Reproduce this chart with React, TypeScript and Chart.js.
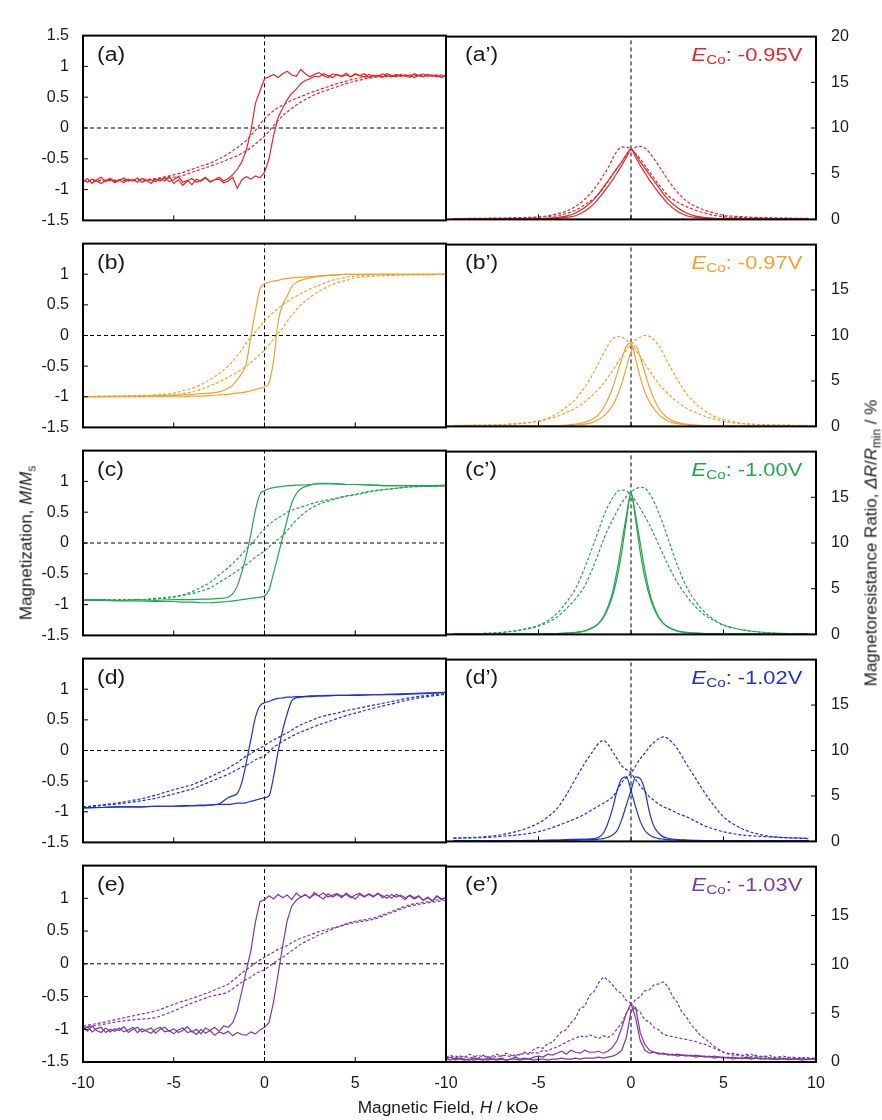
import React, { useEffect, useRef } from 'react';
import { Chart, registerables } from 'chart.js';

Chart.register(...registerables);

const FONT_FAMILY = '"Liberation Sans", Arial, Helvetica, sans-serif';

// ---------- axis ticks ----------
const xTickValues = [-10, -5, 0, 5, 10];
const xTickLabels = ['-10', '-5', '0', '5', '10'];
const magTickValues = [-1.5, -1, -0.5, 0, 0.5, 1, 1.5];
const magTickLabels = ['-1.5', '-1', '-0.5', '0', '0.5', '1', '1.5'];
const mrTickValues = [0, 5, 10, 15, 20];
const mrTickLabels = ['0', '5', '10', '15', '20'];

// ---------- panels ----------
const panelLetters = ['a', 'b', 'c', 'd', 'e'];
const depositionPotentials = ['-0.95V', '-0.97V', '-1.00V', '-1.02V', '-1.03V'];
const seriesColors = ['#e6262b', '#f1a22c', '#21a650', '#1f2fd2', '#7b3aa0'];

// ---------- field grids (kOe) ----------
const fineField = [
  -10, -9.75, -9.5, -9.25,
  -9, -8.75, -8.5, -8.25,
  -8, -7.75, -7.5, -7.25,
  -7, -6.75, -6.5, -6.25,
  -6, -5.75, -5.5, -5.25,
  -5, -4.75, -4.5, -4.25,
  -4, -3.75, -3.5, -3.25,
  -3, -2.75, -2.5, -2.25,
  -2, -1.75, -1.5, -1.25,
  -1, -0.75, -0.5, -0.25,
  0, 0.25, 0.5, 0.75,
  1, 1.25, 1.5, 1.75,
  2, 2.25, 2.5, 2.75,
  3, 3.25, 3.5, 3.75,
  4, 4.25, 4.5, 4.75,
  5, 5.25, 5.5, 5.75,
  6, 6.25, 6.5, 6.75,
  7, 7.25, 7.5, 7.75,
  8, 8.25, 8.5, 8.75,
  9, 9.25, 9.5, 9.75,
  10,
];

const coarseField = [
  -10, -9, -8, -7, -6,
  -5, -4.5, -4, -3.5, -3,
  -2.5, -2, -1.75, -1.5, -1.25,
  -1, -0.75, -0.5, -0.25, 0,
  0.25, 0.5, 0.75, 1, 1.25,
  1.5, 1.75, 2, 2.5, 3,
  3.5, 4, 4.5, 5, 6,
  7, 8, 9, 10,
];

const coarseFieldMR = [
  -9.6, -9, -8, -7, -6,
  -5, -4.5, -4, -3.5, -3,
  -2.5, -2, -1.75, -1.5, -1.25,
  -1, -0.75, -0.5, -0.25, 0,
  0.25, 0.5, 0.75, 1, 1.25,
  1.5, 1.75, 2, 2.5, 3,
  3.5, 4, 4.5, 5, 6,
  7, 8, 9, 9.6,
];

// ---------- (a) M/Ms ----------
const aLoopSolidDown = [
  -0.88, -0.82, -0.90, -0.84,
  -0.80, -0.87, -0.83, -0.89,
  -0.85, -0.81, -0.86, -0.84,
  -0.88, -0.82, -0.85, -0.90,
  -0.83, -0.86, -0.80, -0.87,
  -0.84, -0.79, -0.88, -0.85,
  -0.92, -0.83, -0.86, -0.81,
  -0.88, -0.84, -0.80, -0.86,
  -0.82, -0.76, -0.67, -0.55,
  -0.36, -0.05, 0.40, 0.60,
  0.80, 0.83, 0.87, 0.82,
  0.88, 0.92, 0.86, 0.84,
  0.95, 0.88, 0.83, 0.87,
  0.90, 0.85, 0.82, 0.88,
  0.86, 0.84, 0.89, 0.83,
  0.87, 0.85, 0.88, 0.82,
  0.86, 0.84, 0.88, 0.85,
  0.83, 0.87, 0.84, 0.86,
  0.82, 0.88, 0.85, 0.83,
  0.87, 0.84, 0.86, 0.82,
  0.85,
];
const aLoopSolidUp = [
  -0.84, -0.88, -0.83, -0.86,
  -0.90, -0.85, -0.82, -0.87,
  -0.84, -0.89, -0.83, -0.86,
  -0.81, -0.88, -0.85, -0.84,
  -0.87, -0.82, -0.86, -0.78,
  -0.90, -0.84, -0.93, -0.86,
  -0.82, -0.88, -0.85, -0.80,
  -0.87, -0.84, -0.83, -0.89,
  -0.86, -0.80, -0.98, -0.84,
  -0.79, -0.83, -0.78, -0.81,
  -0.72, -0.50, -0.12, 0.17,
  0.32, 0.46, 0.56, 0.63,
  0.72, 0.77, 0.80, 0.84,
  0.83, 0.88, 0.85, 0.82,
  0.87, 0.84, 0.86, 0.83,
  0.88, 0.85, 0.83, 0.87,
  0.84, 0.86, 0.82, 0.88,
  0.85, 0.83, 0.87, 0.84,
  0.86, 0.82, 0.85, 0.88,
  0.84, 0.86, 0.83, 0.85,
  0.84,
];
const aLoopDashDown = [
  -0.86, -0.85, -0.85, -0.84, -0.82,
  -0.76, -0.72, -0.67, -0.62, -0.57,
  -0.50, -0.42, -0.37, -0.32, -0.26,
  -0.20, -0.12, -0.04, 0.06, 0.15,
  0.22, 0.28, 0.33, 0.37, 0.41,
  0.45, 0.48, 0.51, 0.57, 0.62,
  0.67, 0.72, 0.76, 0.80, 0.84,
  0.85, 0.86, 0.86, 0.85,
];
const aLoopDashUp = [
  -0.86, -0.86, -0.85, -0.85, -0.83,
  -0.80, -0.77, -0.72, -0.67, -0.62,
  -0.57, -0.51, -0.48, -0.45, -0.41,
  -0.37, -0.32, -0.26, -0.20, -0.13,
  -0.05, 0.04, 0.12, 0.20, 0.26,
  0.32, 0.37, 0.42, 0.50, 0.57,
  0.62, 0.67, 0.72, 0.76, 0.82,
  0.84, 0.85, 0.85, 0.86,
];

// ---------- (b) M/Ms ----------
const bLoopSolidDown = [
  -1.0, -1.0, -0.99, -0.99, -0.98,
  -0.98, -0.97, -0.96, -0.95, -0.94,
  -0.92, -0.86, -0.81, -0.72, -0.62,
  -0.45, -0.02, 0.40, 0.76, 0.84,
  0.87, 0.89, 0.90, 0.92, 0.93,
  0.94, 0.95, 0.95, 0.96, 0.97,
  0.98, 0.99, 1.0, 1.0, 1.0,
  1.0, 1.0, 1.0, 1.0,
];
const bLoopSolidUp = [
  -1.0, -1.0, -1.0, -1.0, -1.0,
  -1.0, -1.0, -0.99, -0.99, -0.98,
  -0.97, -0.96, -0.95, -0.94, -0.93,
  -0.92, -0.90, -0.88, -0.86, -0.84,
  -0.77, -0.41, 0.22, 0.50, 0.64,
  0.80, 0.86, 0.90, 0.94, 0.97,
  0.98, 0.99, 1.0, 1.0, 1.0,
  1.0, 1.0, 1.0, 1.0,
];
const bLoopDashDown = [
  -1.0, -0.99, -0.99, -0.98, -0.97,
  -0.94, -0.90, -0.86, -0.80, -0.72,
  -0.62, -0.50, -0.42, -0.33, -0.23,
  -0.12, -0.03, 0.06, 0.15, 0.24,
  0.31, 0.38, 0.44, 0.50, 0.55,
  0.60, 0.64, 0.68, 0.76, 0.82,
  0.88, 0.92, 0.95, 0.97, 0.99,
  1.0, 1.0, 1.0, 1.0,
];
const bLoopDashUp = [
  -1.0, -1.0, -1.0, -1.0, -0.99,
  -0.97, -0.95, -0.92, -0.88, -0.82,
  -0.76, -0.68, -0.64, -0.60, -0.55,
  -0.50, -0.44, -0.38, -0.31, -0.24,
  -0.15, -0.06, 0.03, 0.12, 0.23,
  0.33, 0.42, 0.50, 0.62, 0.72,
  0.80, 0.86, 0.90, 0.94, 0.97,
  0.98, 0.99, 0.99, 1.0,
];

// ---------- (c) M/Ms ----------
const cLoopSolidDown = [
  -0.92, -0.92, -0.93, -0.92, -0.93,
  -0.92, -0.92, -0.92, -0.91, -0.91,
  -0.90, -0.88, -0.82, -0.70, -0.47,
  -0.20, 0.15, 0.53, 0.79, 0.85,
  0.88, 0.90, 0.91, 0.92, 0.93,
  0.93, 0.94, 0.94, 0.95, 0.96,
  0.96, 0.96, 0.95, 0.95, 0.94,
  0.93, 0.93, 0.93, 0.94,
];
const cLoopSolidUp = [
  -0.93, -0.93, -0.94, -0.94, -0.95,
  -0.95, -0.96, -0.96, -0.97, -0.97,
  -0.96, -0.95, -0.94, -0.93, -0.92,
  -0.91, -0.90, -0.89, -0.88, -0.86,
  -0.76, -0.49, -0.20, 0.09, 0.38,
  0.65, 0.80, 0.88, 0.94, 0.97,
  0.97, 0.96, 0.95, 0.95, 0.94,
  0.93, 0.93, 0.92, 0.93,
];
const cLoopDashDown = [
  -0.93, -0.93, -0.92, -0.92, -0.91,
  -0.88, -0.84, -0.79, -0.72, -0.64,
  -0.52, -0.40, -0.33, -0.26, -0.18,
  -0.10, -0.02, 0.06, 0.15, 0.23,
  0.30, 0.36, 0.41, 0.45, 0.50,
  0.53, 0.56, 0.58, 0.63, 0.67,
  0.70, 0.73, 0.76, 0.78, 0.84,
  0.88, 0.91, 0.92, 0.93,
];
const cLoopDashUp = [
  -0.93, -0.93, -0.92, -0.92, -0.90,
  -0.87, -0.85, -0.82, -0.78, -0.73,
  -0.64, -0.55, -0.50, -0.45, -0.40,
  -0.35, -0.29, -0.23, -0.18, -0.13,
  -0.06, 0.0, 0.06, 0.12, 0.20,
  0.29, 0.37, 0.44, 0.55, 0.63,
  0.68, 0.72, 0.76, 0.79, 0.85,
  0.88, 0.91, 0.92, 0.93,
];

// ---------- (d) M/Ms ----------
const dLoopSolidDown = [
  -0.93, -0.93, -0.92, -0.92, -0.91,
  -0.91, -0.91, -0.90, -0.90, -0.89,
  -0.87, -0.77, -0.74, -0.70, -0.52,
  -0.19, 0.18, 0.54, 0.73, 0.78,
  0.80, 0.83, 0.85, 0.86, 0.87,
  0.87, 0.88, 0.88, 0.89, 0.89,
  0.90, 0.90, 0.90, 0.91, 0.91,
  0.92, 0.93, 0.94, 0.95,
];
const dLoopSolidUp = [
  -0.94, -0.93, -0.92, -0.92, -0.91,
  -0.91, -0.90, -0.90, -0.89, -0.89,
  -0.88, -0.88, -0.87, -0.86, -0.86,
  -0.85, -0.83, -0.81, -0.79, -0.77,
  -0.74, -0.43, -0.02, 0.33, 0.60,
  0.81, 0.86, 0.87, 0.88, 0.89,
  0.89, 0.90, 0.90, 0.90, 0.91,
  0.91, 0.92, 0.93, 0.95,
];
const dLoopDashDown = [
  -0.92, -0.89, -0.85, -0.80, -0.73,
  -0.64, -0.60, -0.56, -0.50, -0.43,
  -0.36, -0.29, -0.24, -0.20, -0.14,
  -0.09, -0.05, 0.0, 0.04, 0.08,
  0.13, 0.17, 0.21, 0.25, 0.29,
  0.33, 0.38, 0.42, 0.48, 0.54,
  0.58, 0.61, 0.65, 0.68, 0.74,
  0.80, 0.86, 0.90, 0.93,
];
const dLoopDashUp = [
  -0.93, -0.90, -0.87, -0.83, -0.78,
  -0.71, -0.67, -0.63, -0.57, -0.51,
  -0.45, -0.39, -0.35, -0.31, -0.27,
  -0.24, -0.20, -0.15, -0.12, -0.09,
  -0.02, 0.05, 0.10, 0.15, 0.19,
  0.23, 0.27, 0.30, 0.36, 0.42,
  0.47, 0.52, 0.57, 0.61, 0.69,
  0.76, 0.83, 0.88, 0.92,
];

// ---------- (e) M/Ms ----------
const eLoopSolidDown = [
  -0.97, -1.03, -0.95, -1.02,
  -1.05, -0.98, -1.04, -0.99,
  -1.02, -0.96, -1.05, -1.00,
  -0.97, -1.04, -1.01, -0.98,
  -1.06, -1.00, -0.97, -1.03,
  -0.99, -1.05, -1.02, -0.96,
  -1.04, -1.00, -1.07, -0.98,
  -1.02, -0.97, -1.03, -0.95,
  -0.97, -0.90, -0.72, -0.42,
  -0.10, 0.20, 0.64, 0.95,
  0.98, 1.04, 0.99, 1.06,
  1.01, 1.05, 0.98, 1.08,
  1.02, 1.06, 1.00, 1.09,
  1.03, 0.99, 1.07, 1.02,
  1.06, 1.01, 1.08, 1.03,
  0.99, 1.06, 1.02, 1.07,
  1.03, 1.08, 1.01, 1.05,
  1.00, 1.06, 1.03, 0.98,
  1.05, 1.01, 1.04, 0.97,
  1.02, 0.96, 1.04, 0.99,
  1.01,
];
const eLoopSolidUp = [
  -1.02, -0.96, -1.04, -0.99,
  -0.97, -1.05, -1.00, -1.03,
  -0.98, -1.04, -1.01, -0.97,
  -1.05, -0.99, -1.03, -1.06,
  -1.00, -0.97, -1.04, -1.02,
  -1.07, -1.01, -0.98, -1.05,
  -1.03, -1.08, -1.00, -1.06,
  -1.02, -1.09, -1.04, -1.07,
  -1.03, -1.10, -1.05, -1.08,
  -1.09, -1.04, -1.07, -1.01,
  -0.97, -0.90, -0.58, -0.16,
  0.27, 0.66, 0.88, 0.97,
  1.02, 1.05, 1.01, 1.06,
  1.04, 1.08, 1.02, 1.05,
  1.07, 1.03, 1.06, 1.01,
  1.05, 1.08, 1.03, 1.06,
  1.02, 1.07, 1.04, 1.00,
  1.06, 1.02, 1.05, 1.01,
  1.04, 0.99, 1.03, 0.97,
  1.01, 0.96, 1.03, 0.98,
  1.02,
];
const eLoopDashDown = [
  -0.95, -0.90, -0.84, -0.78, -0.72,
  -0.62, -0.57, -0.53, -0.48, -0.43,
  -0.37, -0.31, -0.26, -0.20, -0.14,
  -0.09, -0.04, 0.01, 0.06, 0.10,
  0.14, 0.18, 0.22, 0.25, 0.28,
  0.32, 0.36, 0.39, 0.44, 0.49,
  0.53, 0.56, 0.60, 0.63, 0.68,
  0.78, 0.88, 0.93, 0.97,
];
const eLoopDashUp = [
  -0.97, -0.93, -0.88, -0.85, -0.82,
  -0.72, -0.66, -0.60, -0.55, -0.50,
  -0.47, -0.43, -0.38, -0.33, -0.28,
  -0.24, -0.20, -0.15, -0.12, -0.09,
  -0.04, 0.01, 0.06, 0.10, 0.15,
  0.20, 0.25, 0.30, 0.37, 0.44,
  0.50, 0.56, 0.61, 0.65, 0.70,
  0.80, 0.90, 0.95, 1.0,
];

// ---------- (a') MR % ----------
const aMrSolid1 = [
  0.05, 0.05, 0.05, 0.05, 0.05,
  0.05, 0.08, 0.12, 0.22, 0.4,
  0.9, 1.7, 2.3, 2.9, 3.6,
  4.3, 5.1, 5.9, 6.8, 7.7,
  7.1, 6.3, 5.6, 4.9, 4.2,
  3.5, 2.8, 2.2, 1.3, 0.7,
  0.35, 0.2, 0.12, 0.08, 0.05,
  0.05, 0.05, 0.05, 0.05,
];
const aMrSolid2 = [
  0.05, 0.05, 0.05, 0.05, 0.05,
  0.08, 0.12, 0.2, 0.35, 0.7,
  1.3, 2.2, 2.8, 3.5, 4.2,
  4.9, 5.6, 6.3, 7.1, 7.7,
  6.8, 5.9, 5.1, 4.3, 3.6,
  2.9, 2.3, 1.7, 0.9, 0.4,
  0.22, 0.12, 0.08, 0.05, 0.05,
  0.05, 0.05, 0.05, 0.05,
];
const aMrDash1 = [
  0.1, 0.1, 0.1, 0.12, 0.15,
  0.25, 0.4, 0.6, 0.9, 1.4,
  2.2, 3.3, 4.0, 4.8, 5.6,
  6.6, 7.5, 7.9, 7.9, 7.7,
  7.2, 6.6, 5.9, 5.2, 4.5,
  3.8, 3.2, 2.6, 1.9, 1.4,
  1.0, 0.7, 0.45, 0.3, 0.2,
  0.15, 0.12, 0.1, 0.1,
];
const aMrDash2 = [
  0.1, 0.1, 0.12, 0.15, 0.2,
  0.25, 0.3, 0.4, 0.65, 1.0,
  1.6, 2.3, 2.8, 3.4, 4.1,
  4.9, 5.6, 6.3, 7.0, 7.6,
  7.9, 8.0, 7.8, 7.3, 6.6,
  5.9, 5.1, 4.3, 3.0, 2.0,
  1.4, 1.0, 0.7, 0.45, 0.3,
  0.2, 0.15, 0.12, 0.12,
];

// ---------- (b') MR % ----------
const bMrSolid1 = [
  0.05, 0.05, 0.05, 0.05, 0.05,
  0.07, 0.08, 0.1, 0.15, 0.25,
  0.45, 0.9, 1.3, 2.0, 3.0,
  4.2, 5.8, 7.4, 8.8, 9.2,
  7.4, 5.4, 3.8, 2.7, 1.9,
  1.3, 0.9, 0.6, 0.3, 0.15,
  0.1, 0.08, 0.07, 0.06, 0.05,
  0.05, 0.05, 0.05, 0.05,
];
const bMrSolid2 = [
  0.05, 0.05, 0.05, 0.05, 0.05,
  0.05, 0.06, 0.07, 0.09, 0.13,
  0.25, 0.5, 0.75, 1.1, 1.6,
  2.3, 3.3, 4.7, 6.5, 8.2,
  8.9, 7.6, 5.9, 4.3, 3.0,
  2.0, 1.35, 0.9, 0.45, 0.25,
  0.15, 0.1, 0.08, 0.07, 0.06,
  0.05, 0.05, 0.05, 0.05,
];
const bMrDash1 = [
  0.1, 0.1, 0.12, 0.18, 0.3,
  0.6, 0.9, 1.4, 2.1, 3.0,
  4.3, 6.0, 7.0, 8.0, 8.9,
  9.6, 9.9, 9.8, 9.5, 9.0,
  8.4, 7.7, 6.9, 6.1, 5.4,
  4.7, 4.1, 3.6, 2.7, 2.0,
  1.5, 1.1, 0.8, 0.55, 0.3,
  0.2, 0.15, 0.12, 0.1,
];
const bMrDash2 = [
  0.1, 0.12, 0.15, 0.2, 0.35,
  0.55, 0.8, 1.1, 1.5, 2.0,
  2.7, 3.6, 4.1, 4.7, 5.4,
  6.1, 6.9, 7.7, 8.4, 9.0,
  9.5, 9.8, 10.0, 9.9, 9.5,
  8.9, 8.0, 7.0, 5.2, 3.6,
  2.5, 1.7, 1.1, 0.75, 0.35,
  0.2, 0.12, 0.1, 0.1,
];

// ---------- (c') MR % ----------
const cMrSolid1 = [
  0.05, 0.05, 0.05, 0.05, 0.06,
  0.07, 0.08, 0.1, 0.14, 0.2,
  0.35, 0.8, 1.2, 1.9, 3.0,
  4.6, 7.0, 10.0, 13.0, 15.5,
  12.5, 9.0, 6.2, 4.2, 2.8,
  1.8, 1.2, 0.8, 0.4, 0.22,
  0.14, 0.1, 0.08, 0.07, 0.06,
  0.05, 0.05, 0.05, 0.05,
];
const cMrSolid2 = [
  0.05, 0.05, 0.05, 0.05, 0.06,
  0.07, 0.08, 0.1, 0.14, 0.22,
  0.4, 0.8, 1.2, 1.8, 2.8,
  4.2, 6.2, 9.0, 12.5, 15.4,
  13.0, 10.0, 7.0, 4.6, 3.0,
  1.9, 1.2, 0.8, 0.35, 0.2,
  0.14, 0.1, 0.08, 0.07, 0.06,
  0.05, 0.05, 0.05, 0.05,
];
const cMrDash1 = [
  0.05, 0.06, 0.1, 0.2, 0.5,
  1.0, 1.5, 2.3, 3.5, 5.0,
  7.3, 10.0, 11.4, 12.8, 14.0,
  14.9, 15.6, 15.8, 15.7, 15.3,
  14.6, 13.8, 12.9, 12.0, 10.9,
  9.8, 8.7, 7.6, 5.7, 4.2,
  3.0, 2.1, 1.5, 1.0, 0.5,
  0.25, 0.12, 0.07, 0.05,
];
const cMrDash2 = [
  0.05, 0.06, 0.1, 0.22, 0.45,
  0.9, 1.3, 1.9, 2.8, 3.9,
  5.3, 7.6, 8.9, 10.3, 11.5,
  12.5, 13.5, 14.4, 15.1, 15.6,
  15.9, 16.1, 16.0, 15.4, 14.5,
  13.3, 12.0, 10.5, 7.6, 5.2,
  3.6, 2.4, 1.6, 1.05, 0.5,
  0.25, 0.12, 0.07, 0.05,
];

// ---------- (d') MR % ----------
const dMrSolid1 = [
  0.1, 0.1, 0.1, 0.1, 0.1,
  0.12, 0.13, 0.15, 0.2, 0.22,
  0.25, 0.3, 0.45, 0.9, 2.0,
  3.6, 5.6, 6.9, 7.1, 5.6,
  3.8, 2.2, 1.2, 0.7, 0.45,
  0.3, 0.25, 0.2, 0.15, 0.12,
  0.1, 0.1, 0.1, 0.1, 0.1,
  0.1, 0.1, 0.1, 0.1,
];
const dMrSolid2 = [
  0.1, 0.1, 0.1, 0.1, 0.1,
  0.1, 0.1, 0.12, 0.13, 0.15,
  0.18, 0.2, 0.25, 0.3, 0.45,
  0.7, 1.2, 2.4, 4.0, 5.6,
  7.1, 6.9, 5.6, 3.2, 1.6,
  0.9, 0.5, 0.35, 0.2, 0.15,
  0.12, 0.1, 0.1, 0.1, 0.1,
  0.1, 0.1, 0.1, 0.1,
];
const dMrDash1 = [
  0.35, 0.4, 0.5, 0.74, 1.2,
  2.0, 2.7, 3.6, 5.1, 6.9,
  8.6, 10.1, 10.8, 11.1, 10.7,
  9.9, 9.1, 8.3, 7.9, 7.5,
  6.8, 6.1, 5.5, 4.9, 4.5,
  4.1, 3.8, 3.6, 3.1, 2.7,
  2.2, 1.7, 1.35, 1.06, 0.7,
  0.55, 0.45, 0.38, 0.35,
];
const dMrDash2 = [
  0.35, 0.38, 0.42, 0.55, 0.74,
  1.06, 1.35, 1.7, 2.1, 2.5,
  3.0, 3.6, 3.9, 4.2, 4.5,
  4.9, 5.6, 6.5, 7.0, 7.5,
  8.3, 9.1, 9.7, 10.4, 10.9,
  11.3, 11.5, 11.3, 10.2, 8.5,
  6.9, 5.3, 3.9, 2.7, 1.4,
  0.74, 0.45, 0.35, 0.3,
];

// ---------- (e') MR % ----------
const eMrDash1 = [
  0.5, 0.7, 0.4, 0.6,
  0.5, 0.8, 0.6, 0.4,
  0.7, 0.5, 0.6, 0.8,
  0.6, 0.9, 0.7, 0.6,
  0.8, 1.0, 0.9, 1.3,
  1.5, 1.4, 1.9, 2.0,
  2.6, 3.1, 3.3, 4.0,
  4.5, 5.5, 5.7, 6.8,
  7.2, 8.1, 8.7, 8.4,
  7.9, 7.3, 7.0, 6.3,
  6.0, 5.4, 5.1, 4.3,
  4.1, 3.5, 3.3, 2.8,
  2.7, 2.6, 2.5, 2.4,
  2.3, 2.2, 2.1, 1.9,
  1.8, 1.6, 1.4, 1.2,
  1.0, 0.9, 0.7, 0.8,
  0.7, 0.6, 0.8, 0.5,
  0.6, 0.5, 0.7, 0.4,
  0.5, 0.6, 0.4, 0.5,
  0.4, 0.5, 0.3, 0.4,
  0.4,
];
const eMrDash2 = [
  0.5, 0.4, 0.6, 0.5,
  0.6, 0.4, 0.5, 0.7,
  0.5, 0.6, 0.4, 0.6,
  0.6, 0.7, 0.5, 0.8,
  0.7, 0.9, 0.8, 1.0,
  0.9, 1.2, 1.1, 1.4,
  1.5, 1.8, 2.0, 2.3,
  2.4, 2.7, 2.5, 2.8,
  2.6, 2.4, 2.7, 2.5,
  2.8, 3.4, 4.0, 5.0,
  5.8, 6.4, 6.7, 7.3,
  7.4, 7.9, 8.0, 8.2,
  7.7, 6.7, 6.1, 5.1,
  4.6, 3.8, 3.3, 2.7,
  2.4, 2.0, 1.6, 1.3,
  1.0, 0.8, 0.9, 0.7,
  0.6, 0.8, 0.5, 0.7,
  0.5, 0.6, 0.4, 0.5,
  0.5, 0.3, 0.5, 0.4,
  0.3, 0.4, 0.5, 0.3,
  0.35,
];
const eMrSolid1 = [
  0.3, 0.5, 0.2, 0.4,
  0.3, 0.2, 0.4, 0.3,
  0.2, 0.4, 0.3, 0.3,
  0.4, 0.2, 0.3, 0.5,
  0.3, 0.4, 0.3, 0.5,
  0.6, 0.5, 0.8, 0.7,
  0.9, 1.1, 0.8, 1.2,
  1.0, 0.9, 1.2, 1.0,
  1.0, 1.1, 0.9, 1.1,
  1.5, 2.2, 3.5, 5.0,
  6.0, 4.5, 2.2, 1.2,
  0.9, 1.0, 0.8, 0.9,
  0.7, 0.8, 0.6, 0.7,
  0.6, 0.7, 0.5, 0.6,
  0.5, 0.6, 0.4, 0.5,
  0.4, 0.5, 0.3, 0.4,
  0.35, 0.4, 0.3, 0.4,
  0.3, 0.4, 0.3, 0.3,
  0.3, 0.35, 0.25, 0.3,
  0.3, 0.35, 0.25, 0.3,
  0.3,
];
const eMrSolid2 = [
  0.3, 0.2, 0.4, 0.3,
  0.2, 0.3, 0.2, 0.3,
  0.3, 0.2, 0.3, 0.2,
  0.3, 0.2, 0.3, 0.3,
  0.2, 0.3, 0.3, 0.2,
  0.3, 0.3, 0.2, 0.3,
  0.3, 0.4, 0.3, 0.3,
  0.4, 0.3, 0.4, 0.4,
  0.4, 0.5, 0.4, 0.5,
  0.6, 0.8, 1.2, 2.5,
  5.2, 5.6, 3.0, 1.8,
  1.2, 1.0, 0.9, 0.8,
  0.8, 0.7, 0.8, 0.7,
  0.7, 0.6, 0.7, 0.6,
  0.6, 0.5, 0.6, 0.5,
  0.5, 0.4, 0.5, 0.4,
  0.4, 0.5, 0.4, 0.4,
  0.4, 0.3, 0.4, 0.3,
  0.3, 0.4, 0.3, 0.3,
  0.3, 0.2, 0.3, 0.3,
  0.3,
];

// ---------- curve tables ----------
type Curve = { field: number[]; values: number[]; dashed: boolean; smooth: boolean };

const loopCurves: Curve[][] = [
  [
    { field: fineField, values: aLoopSolidDown, dashed: false, smooth: false },
    { field: fineField, values: aLoopSolidUp, dashed: false, smooth: false },
    { field: coarseField, values: aLoopDashDown, dashed: true, smooth: true },
    { field: coarseField, values: aLoopDashUp, dashed: true, smooth: true },
  ],
  [
    { field: coarseField, values: bLoopSolidDown, dashed: false, smooth: true },
    { field: coarseField, values: bLoopSolidUp, dashed: false, smooth: true },
    { field: coarseField, values: bLoopDashDown, dashed: true, smooth: true },
    { field: coarseField, values: bLoopDashUp, dashed: true, smooth: true },
  ],
  [
    { field: coarseField, values: cLoopSolidDown, dashed: false, smooth: true },
    { field: coarseField, values: cLoopSolidUp, dashed: false, smooth: true },
    { field: coarseField, values: cLoopDashDown, dashed: true, smooth: true },
    { field: coarseField, values: cLoopDashUp, dashed: true, smooth: true },
  ],
  [
    { field: coarseField, values: dLoopSolidDown, dashed: false, smooth: true },
    { field: coarseField, values: dLoopSolidUp, dashed: false, smooth: true },
    { field: coarseField, values: dLoopDashDown, dashed: true, smooth: true },
    { field: coarseField, values: dLoopDashUp, dashed: true, smooth: true },
  ],
  [
    { field: fineField, values: eLoopSolidDown, dashed: false, smooth: false },
    { field: fineField, values: eLoopSolidUp, dashed: false, smooth: false },
    { field: coarseField, values: eLoopDashDown, dashed: true, smooth: true },
    { field: coarseField, values: eLoopDashUp, dashed: true, smooth: true },
  ],
];

const mrCurves: Curve[][] = [
  [
    { field: coarseFieldMR, values: aMrSolid1, dashed: false, smooth: true },
    { field: coarseFieldMR, values: aMrSolid2, dashed: false, smooth: true },
    { field: coarseFieldMR, values: aMrDash1, dashed: true, smooth: true },
    { field: coarseFieldMR, values: aMrDash2, dashed: true, smooth: true },
  ],
  [
    { field: coarseFieldMR, values: bMrSolid1, dashed: false, smooth: true },
    { field: coarseFieldMR, values: bMrSolid2, dashed: false, smooth: true },
    { field: coarseFieldMR, values: bMrDash1, dashed: true, smooth: true },
    { field: coarseFieldMR, values: bMrDash2, dashed: true, smooth: true },
  ],
  [
    { field: coarseFieldMR, values: cMrSolid1, dashed: false, smooth: true },
    { field: coarseFieldMR, values: cMrSolid2, dashed: false, smooth: true },
    { field: coarseFieldMR, values: cMrDash1, dashed: true, smooth: true },
    { field: coarseFieldMR, values: cMrDash2, dashed: true, smooth: true },
  ],
  [
    { field: coarseFieldMR, values: dMrSolid1, dashed: false, smooth: true },
    { field: coarseFieldMR, values: dMrSolid2, dashed: false, smooth: true },
    { field: coarseFieldMR, values: dMrDash1, dashed: true, smooth: true },
    { field: coarseFieldMR, values: dMrDash2, dashed: true, smooth: true },
  ],
  [
    { field: fineField, values: eMrSolid1, dashed: false, smooth: false },
    { field: fineField, values: eMrSolid2, dashed: false, smooth: false },
    { field: fineField, values: eMrDash1, dashed: true, smooth: false },
    { field: fineField, values: eMrDash2, dashed: true, smooth: false },
  ],
];

// ---------- layout (pixels) ----------
const rowTops = [24, 232, 439, 647, 854];
const rowBottoms = [232, 439, 647, 854, 1062];
const PLOT_LEFT = 83;
const PLOT_MID = 446;
const PLOT_RIGHT = 816;
const PAD = 12;
const BOTTOM_AXIS_H = 40;
const TEXT_COLOR = '#1a1a1a';

type Side = 'left' | 'right';

function makeConfig(side: Side, row: number, canvasLeft: number, canvasW: number): any {
  const color = seriesColors[row];
  const curves = side === 'left' ? loopCurves[row] : mrCurves[row];
  const isBottom = row === panelLetters.length - 1;
  const yMin = side === 'left' ? -1.5 : 0;
  const yMax = side === 'left' ? 1.5 : 20;
  const yVals = side === 'left' ? magTickValues : mrTickValues;
  const yLabs = side === 'left' ? magTickLabels : mrTickLabels;
  const tickFont = { family: FONT_FAMILY, size: 16 };

  const datasets: any[] = curves.map((c) => ({
    data: c.field.map((x, i) => ({ x, y: c.values[i] })),
    borderColor: color,
    borderWidth: 1.2,
    borderDash: c.dashed ? [3, 2] : [],
    pointRadius: 0,
    showLine: true,
    fill: false,
    tension: 0,
    cubicInterpolationMode: c.smooth ? 'monotone' : 'default',
  }));
  const guide = {
    borderColor: '#000',
    borderWidth: 1,
    borderDash: [4, 3],
    pointRadius: 0,
    showLine: true,
    fill: false,
  };
  datasets.push({ ...guide, data: [{ x: 0, y: yMin }, { x: 0, y: yMax }] });
  if (side === 'left') datasets.push({ ...guide, data: [{ x: -10, y: 0 }, { x: 10, y: 0 }] });

  const framePlugin = {
    id: 'frame' + side + row,
    afterDatasetsDraw(chart: any) {
      const { ctx, chartArea: a, scales } = chart;
      ctx.save();
      ctx.strokeStyle = '#000';
      ctx.setLineDash([]);
      ctx.lineWidth = 1;
      ctx.beginPath();
      xTickValues.forEach((v) => {
        if (v === -10 || v === 10) return;
        const px = scales.x.getPixelForValue(v);
        ctx.moveTo(px, a.bottom);
        ctx.lineTo(px, a.bottom - 5);
      });
      yVals.forEach((v) => {
        const py = scales.y.getPixelForValue(v);
        if (side === 'left') {
          ctx.moveTo(a.left, py);
          ctx.lineTo(a.left + 5, py);
        } else {
          ctx.moveTo(a.right, py);
          ctx.lineTo(a.right - 5, py);
        }
      });
      ctx.stroke();
      ctx.lineWidth = 2;
      ctx.strokeRect(a.left, a.top, a.right - a.left, a.bottom - a.top);
      ctx.restore();
    },
  };

  const leftPad = side === 'left' ? 0 : PLOT_MID - canvasLeft;
  const rightPad = side === 'left' ? canvasLeft + canvasW - PLOT_MID : 0;

  return {
    type: 'scatter',
    data: { datasets },
    plugins: [framePlugin],
    options: {
      animation: false,
      responsive: false,
      maintainAspectRatio: false,
      devicePixelRatio: 1,
      events: [],
      layout: {
        autoPadding: false,
        padding: { left: leftPad, right: rightPad, top: PAD, bottom: isBottom ? 0 : PAD },
      },
      plugins: { legend: { display: false }, tooltip: { enabled: false } },
      scales: {
        x: {
          type: 'linear',
          position: 'bottom',
          min: -10,
          max: 10,
          afterBuildTicks: (s: any) => {
            s.ticks = xTickValues.map((v) => ({ value: v }));
          },
          ticks: {
            display: isBottom,
            autoSkip: false,
            maxRotation: 0,
            minRotation: 0,
            padding: 12,
            font: tickFont,
            color: TEXT_COLOR,
            callback: (_v: any, i: number) =>
              side === 'left' && i === xTickLabels.length - 1 ? '' : xTickLabels[i],
          },
          grid: { display: false, drawTicks: false },
          border: { display: false },
          afterFit: (s: any) => {
            s.height = isBottom ? BOTTOM_AXIS_H : 0;
          },
        },
        y: {
          type: 'linear',
          position: side,
          min: yMin,
          max: yMax,
          afterBuildTicks: (s: any) => {
            s.ticks = yVals.map((v) => ({ value: v }));
          },
          ticks: {
            autoSkip: false,
            padding: side === 'left' ? 14 : 15,
            font: tickFont,
            color: TEXT_COLOR,
            callback: (_v: any, i: number) => (row > 0 && i === yVals.length - 1 ? '' : yLabs[i]),
          },
          grid: { display: false, drawTicks: false },
          border: { display: false },
          afterFit: (s: any) => {
            s.width = side === 'left' ? PLOT_LEFT : canvasLeft + canvasW - PLOT_RIGHT;
          },
        },
      },
    },
  };
}

function PlotPanel({ side, row }: { side: Side; row: number }) {
  const ref = useRef<HTMLCanvasElement | null>(null);
  const isBottom = row === panelLetters.length - 1;
  const h = rowBottoms[row] - rowTops[row];
  const canvasTop = rowTops[row] - PAD;
  const canvasH = PAD + h + (isBottom ? BOTTOM_AXIS_H : PAD);
  const canvasLeft = side === 'left' ? 0 : 420;
  const canvasW = side === 'left' ? 470 : 882 - 420;

  useEffect(() => {
    if (!ref.current) return;
    const chart = new Chart(ref.current, makeConfig(side, row, canvasLeft, canvasW));
    return () => chart.destroy();
  }, [side, row]);

  return (
    <canvas
      ref={ref}
      width={canvasW}
      height={canvasH}
      style={{ position: 'absolute', left: canvasLeft, top: canvasTop, width: canvasW, height: canvasH }}
    />
  );
}

const subStyle: React.CSSProperties = { fontSize: '0.7em', verticalAlign: '-0.3em', lineHeight: 0 };

export default function App() {
  return (
    <div
      style={{
        position: 'absolute',
        left: 0,
        top: 0,
        width: 882,
        height: 1120,
        background: '#fff',
        overflow: 'hidden',
        fontFamily: FONT_FAMILY,
        color: TEXT_COLOR,
      }}
    >
      {panelLetters.map((letter, r) => (
        <React.Fragment key={letter}>
          <PlotPanel side="left" row={r} />
          <PlotPanel side="right" row={r} />
          <div
            style={{
              position: 'absolute',
              left: 97,
              top: rowTops[r] + 30,
              transform: 'translateY(-50%) scaleX(1.15)',
              transformOrigin: 'left center',
              fontSize: 20,
              lineHeight: 1,
              whiteSpace: 'nowrap',
            }}
          >
            ({letter})
          </div>
          <div
            style={{
              position: 'absolute',
              left: 465,
              top: rowTops[r] + 30,
              transform: 'translateY(-50%) scaleX(1.15)',
              transformOrigin: 'left center',
              fontSize: 20,
              lineHeight: 1,
              whiteSpace: 'nowrap',
            }}
          >
            ({letter}’)
          </div>
          <div
            style={{
              position: 'absolute',
              right: 80,
              top: rowTops[r] + 30,
              transform: 'translateY(-50%) scaleX(1.15)',
              transformOrigin: 'right center',
              fontSize: 19,
              lineHeight: 1,
              whiteSpace: 'nowrap',
              color: seriesColors[r],
            }}
          >
            <i>E</i>
            <span style={subStyle}>Co</span>: {depositionPotentials[r]}
          </div>
        </React.Fragment>
      ))}

      <div
        style={{
          position: 'absolute',
          left: 26,
          top: 543,
          transform: 'translate(-50%, -50%) rotate(-90deg)',
          fontSize: 17,
          lineHeight: 1,
          whiteSpace: 'nowrap',
        }}
      >
        Magnetization, <i>M</i>/<i>M</i>
        <span style={subStyle}>s</span>
      </div>

      <div
        style={{
          position: 'absolute',
          left: 871,
          top: 543,
          transform: 'translate(-50%, -50%) rotate(-90deg)',
          fontSize: 17,
          lineHeight: 1,
          whiteSpace: 'nowrap',
        }}
      >
        Magnetoresistance Ratio, <i>ΔR</i>/<i>R</i>
        <span style={subStyle}>min</span> / %
      </div>

      <div
        style={{
          position: 'absolute',
          left: 448,
          top: 1108,
          transform: 'translate(-50%, -50%) scaleX(1.08)',
          fontSize: 16,
          lineHeight: 1,
          whiteSpace: 'nowrap',
        }}
      >
        Magnetic Field, <i>H</i> / kOe
      </div>
    </div>
  );
}
